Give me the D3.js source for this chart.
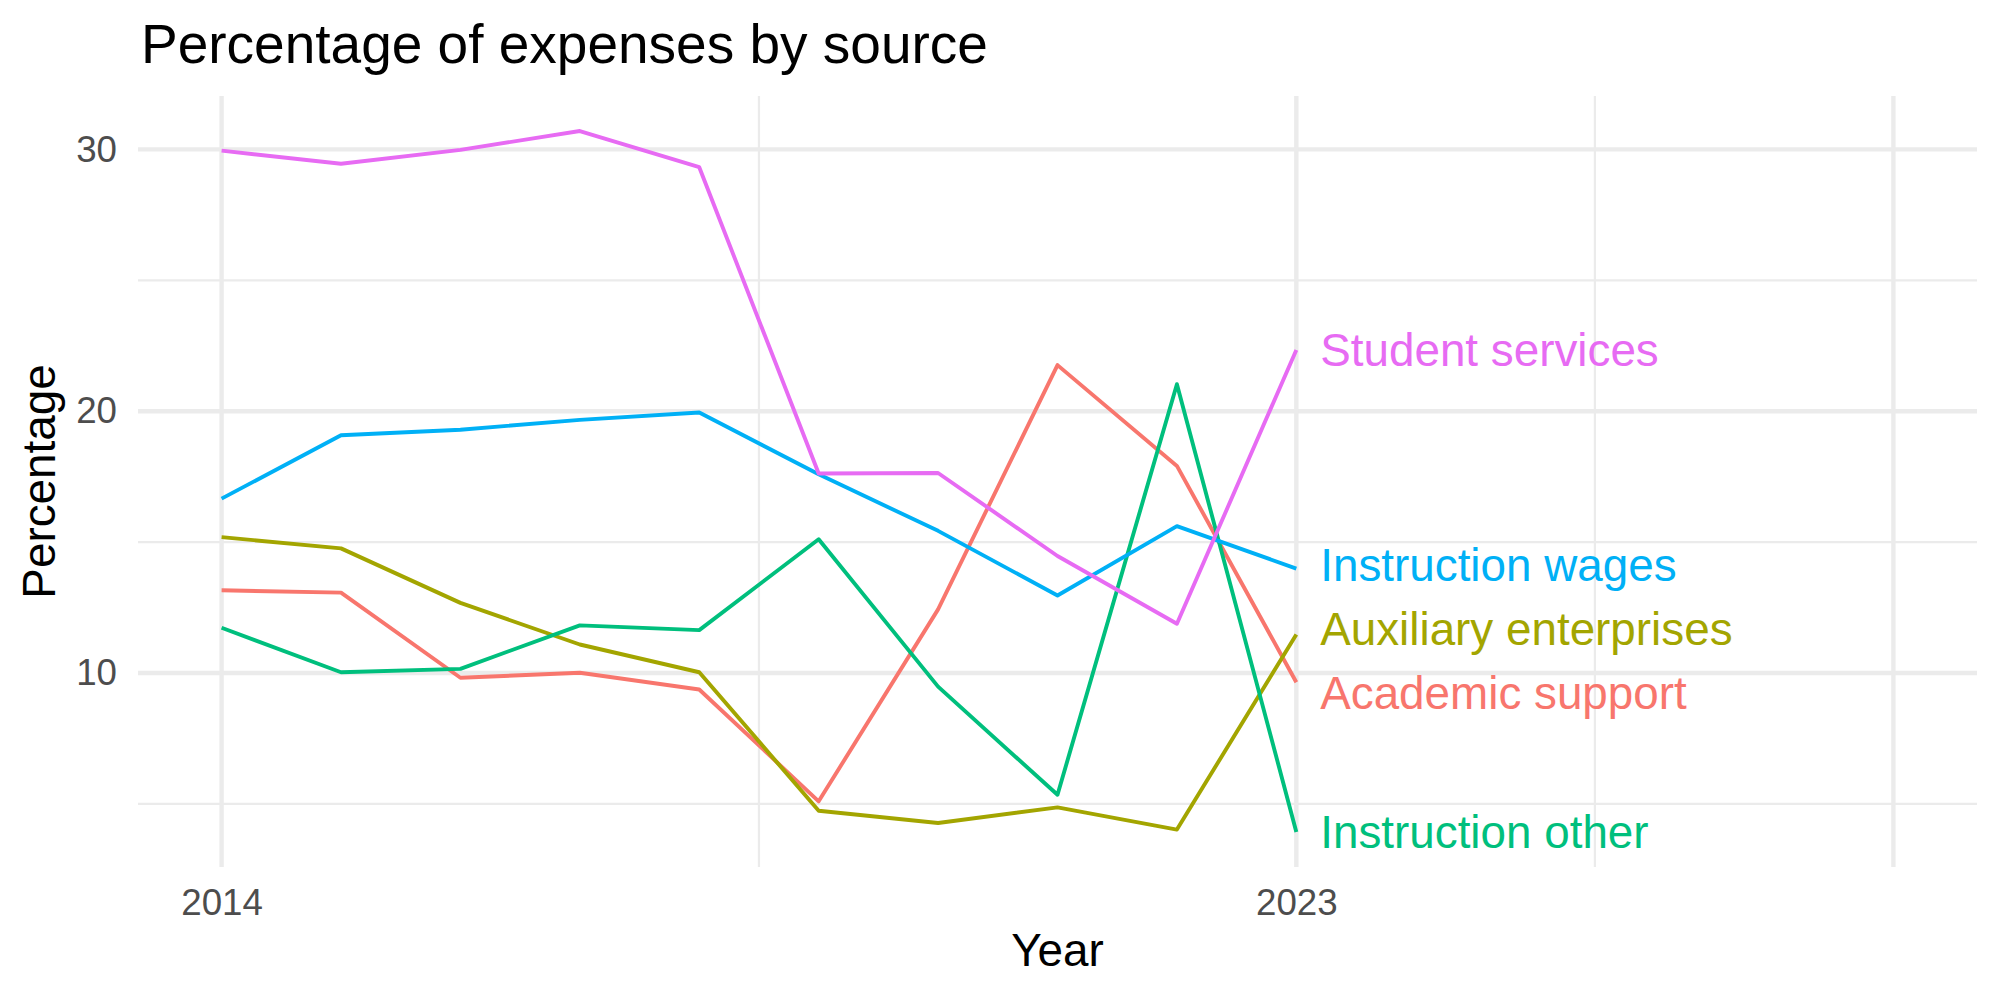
<!DOCTYPE html>
<html lang="en">
    <head>
        <meta charset="utf-8">
        <title>Percentage of expenses by source</title>
        <script type="text/javascript" src="https://cdnjs.cloudflare.com/ajax/libs/d3/7.8.5/d3.min.js"></script>
        <style type="text/css">
            body { margin: 0; background: #fff; }
            text { font-family: "Liberation Sans", Arial, sans-serif; }
        </style>
    </head>
    <body>
        <script type="text/javascript">
            var w = 2000;
            var h = 1000;

            // data
            var years = [2014, 2015, 2016, 2017, 2018, 2019, 2020, 2021, 2022, 2023];
            var sources = ["Academic support", "Auxiliary enterprises", "Instruction other",
                           "Instruction wages", "Student services"];
            var academicSupport      = [13.16, 13.07, 9.82, 10.01, 9.37, 5.10, 12.43, 21.76, 17.91, 9.65];
            var auxiliaryEnterprises = [15.19, 14.76, 12.68, 11.09, 10.03, 4.74, 4.27, 4.87, 4.02, 11.47];
            var instructionOther     = [11.73, 10.03, 10.16, 11.82, 11.64, 15.11, 9.48, 5.35, 21.03, 3.93];
            var instructionWages     = [16.66, 19.08, 19.29, 19.67, 19.95, 17.59, 15.43, 12.96, 15.61, 13.99];
            var studentServices      = [29.95, 29.45, 29.98, 30.70, 29.32, 17.62, 17.64, 14.47, 11.88, 22.34];
            var colors = ["#F8766D", "#A3A500", "#00BF7D", "#00B0F6", "#E76BF3"];

            var xLimits = [2014, 2028];
            var xBreaks = [2014, 2023, 2028];
            var xLabels = [2014, 2023];
            var yBreaks = [10, 20, 30];

            var seriesValues = [academicSupport, auxiliaryEnterprises, instructionOther,
                                instructionWages, studentServices];
            var series = sources.map(function (s, i) {
                return {
                    name: s,
                    color: colors[i],
                    values: years.map(function (y, j) { return { year: y, value: seriesValues[i][j] }; })
                };
            });

            // panel box (window.top is read-only, so no bare "top" here)
            var pLeft = 138, pRight = 1977, pTop = 96, pBottom = 867;

            var xPad = (xLimits[1] - xLimits[0]) * 0.05;
            var x = d3.scaleLinear()
                      .domain([xLimits[0] - xPad, xLimits[1] + xPad])
                      .range([pLeft, pRight]);

            var allVals = d3.merge(seriesValues);
            var yExt = d3.extent(allVals);
            var yPad = (yExt[1] - yExt[0]) * 0.05;
            var y = d3.scaleLinear()
                      .domain([yExt[0] - yPad, yExt[1] + yPad])
                      .range([pBottom, pTop]);

            // minor breaks halfway between majors
            var xMinor = [];
            for (var i = 0; i < xBreaks.length - 1; i++) xMinor.push((xBreaks[i] + xBreaks[i + 1]) / 2);
            var yMinor = [yBreaks[0] - 5].concat(yBreaks.map(function (d) { return d + 5; }))
                          .filter(function (d) { return d > y.domain()[0] && d < y.domain()[1]; });

            var svg = d3.select("body")
                        .append("svg")
                        .attr("width", w)
                        .attr("height", h);

            var grid = svg.append("g");

            grid.selectAll(".ymin")
                .data(yMinor)
                .enter()
                .append("line")
                .attr("x1", pLeft).attr("x2", pRight)
                .attr("y1", function (d) { return y(d); })
                .attr("y2", function (d) { return y(d); })
                .attr("stroke", "#EBEBEB")
                .attr("stroke-width", 2.2);

            grid.selectAll(".xmin")
                .data(xMinor)
                .enter()
                .append("line")
                .attr("y1", pTop).attr("y2", pBottom)
                .attr("x1", function (d) { return x(d); })
                .attr("x2", function (d) { return x(d); })
                .attr("stroke", "#EBEBEB")
                .attr("stroke-width", 2.2);

            grid.selectAll(".ymaj")
                .data(yBreaks)
                .enter()
                .append("line")
                .attr("x1", pLeft).attr("x2", pRight)
                .attr("y1", function (d) { return y(d); })
                .attr("y2", function (d) { return y(d); })
                .attr("stroke", "#EBEBEB")
                .attr("stroke-width", 4.4);

            grid.selectAll(".xmaj")
                .data(xBreaks)
                .enter()
                .append("line")
                .attr("y1", pTop).attr("y2", pBottom)
                .attr("x1", function (d) { return x(d); })
                .attr("x2", function (d) { return x(d); })
                .attr("stroke", "#EBEBEB")
                .attr("stroke-width", 4.4);

            // axes
            var xAxis = svg.append("g")
                           .attr("transform", "translate(0," + pBottom + ")")
                           .call(d3.axisBottom(x).tickValues(xLabels).tickFormat(d3.format("d"))
                                   .tickSize(0).tickPadding(22));
            var yAxis = svg.append("g")
                           .attr("transform", "translate(" + pLeft + ",0)")
                           .call(d3.axisLeft(y).tickValues(yBreaks).tickFormat(d3.format("d"))
                                   .tickSize(0).tickPadding(21));
            [xAxis, yAxis].forEach(function (a) {
                a.select(".domain").remove();
                a.selectAll("text")
                 .attr("font-family", "'Liberation Sans', Arial, sans-serif")
                 .attr("font-size", "36.7px")
                 .attr("fill", "#4D4D4D");
            });

            // lines
            var line = d3.line()
                         .x(function (d) { return x(d.year); })
                         .y(function (d) { return y(d.value); });

            svg.selectAll(".series")
               .data(series)
               .enter()
               .append("path")
               .attr("d", function (d) { return line(d.values); })
               .attr("fill", "none")
               .attr("stroke", function (d) { return d.color; })
               .attr("stroke-width", 3.9)
               .attr("stroke-linejoin", "round");

            // end labels, pushed apart a little so they don't overlap
            var labelSize = 45.8;
            var gap = 63.7;
            var labels = series.map(function (d) {
                var last = d.values[d.values.length - 1];
                return { name: d.name, color: d.color, x: x(last.year + 0.2), y: y(last.value) };
            });
            var sorted = labels.slice().sort(function (a, b) { return a.y - b.y; });
            for (var it = 0; it < 200; it++) {
                for (var k = 0; k < sorted.length - 1; k++) {
                    var dist = sorted[k + 1].y - sorted[k].y;
                    if (dist < gap) {
                        var m = (gap - dist) / 2;
                        sorted[k].y -= m;
                        sorted[k + 1].y += m;
                    }
                }
            }

            svg.selectAll(".lab")
               .data(labels)
               .enter()
               .append("text")
               .text(function (d) { return d.name; })
               .attr("x", function (d) { return d.x; })
               .attr("y", function (d) { return d.y + 0.358 * labelSize; })
               .attr("font-size", labelSize + "px")
               .attr("fill", function (d) { return d.color; });

            // titles
            svg.append("text")
               .text("Percentage of expenses by source")
               .attr("x", 141)
               .attr("y", 63)
               .attr("font-size", "55px")
               .attr("fill", "#000");

            svg.append("text")
               .text("Year")
               .attr("x", (pLeft + pRight) / 2)
               .attr("y", 966)
               .attr("text-anchor", "middle")
               .attr("font-size", "45.8px")
               .attr("fill", "#000");

            svg.append("text")
               .text("Percentage")
               .attr("transform", "translate(55," + (pTop + pBottom) / 2 + ") rotate(-90)")
               .attr("text-anchor", "middle")
               .attr("font-size", "45.8px")
               .attr("fill", "#000");
        </script>
    </body>
</html>
